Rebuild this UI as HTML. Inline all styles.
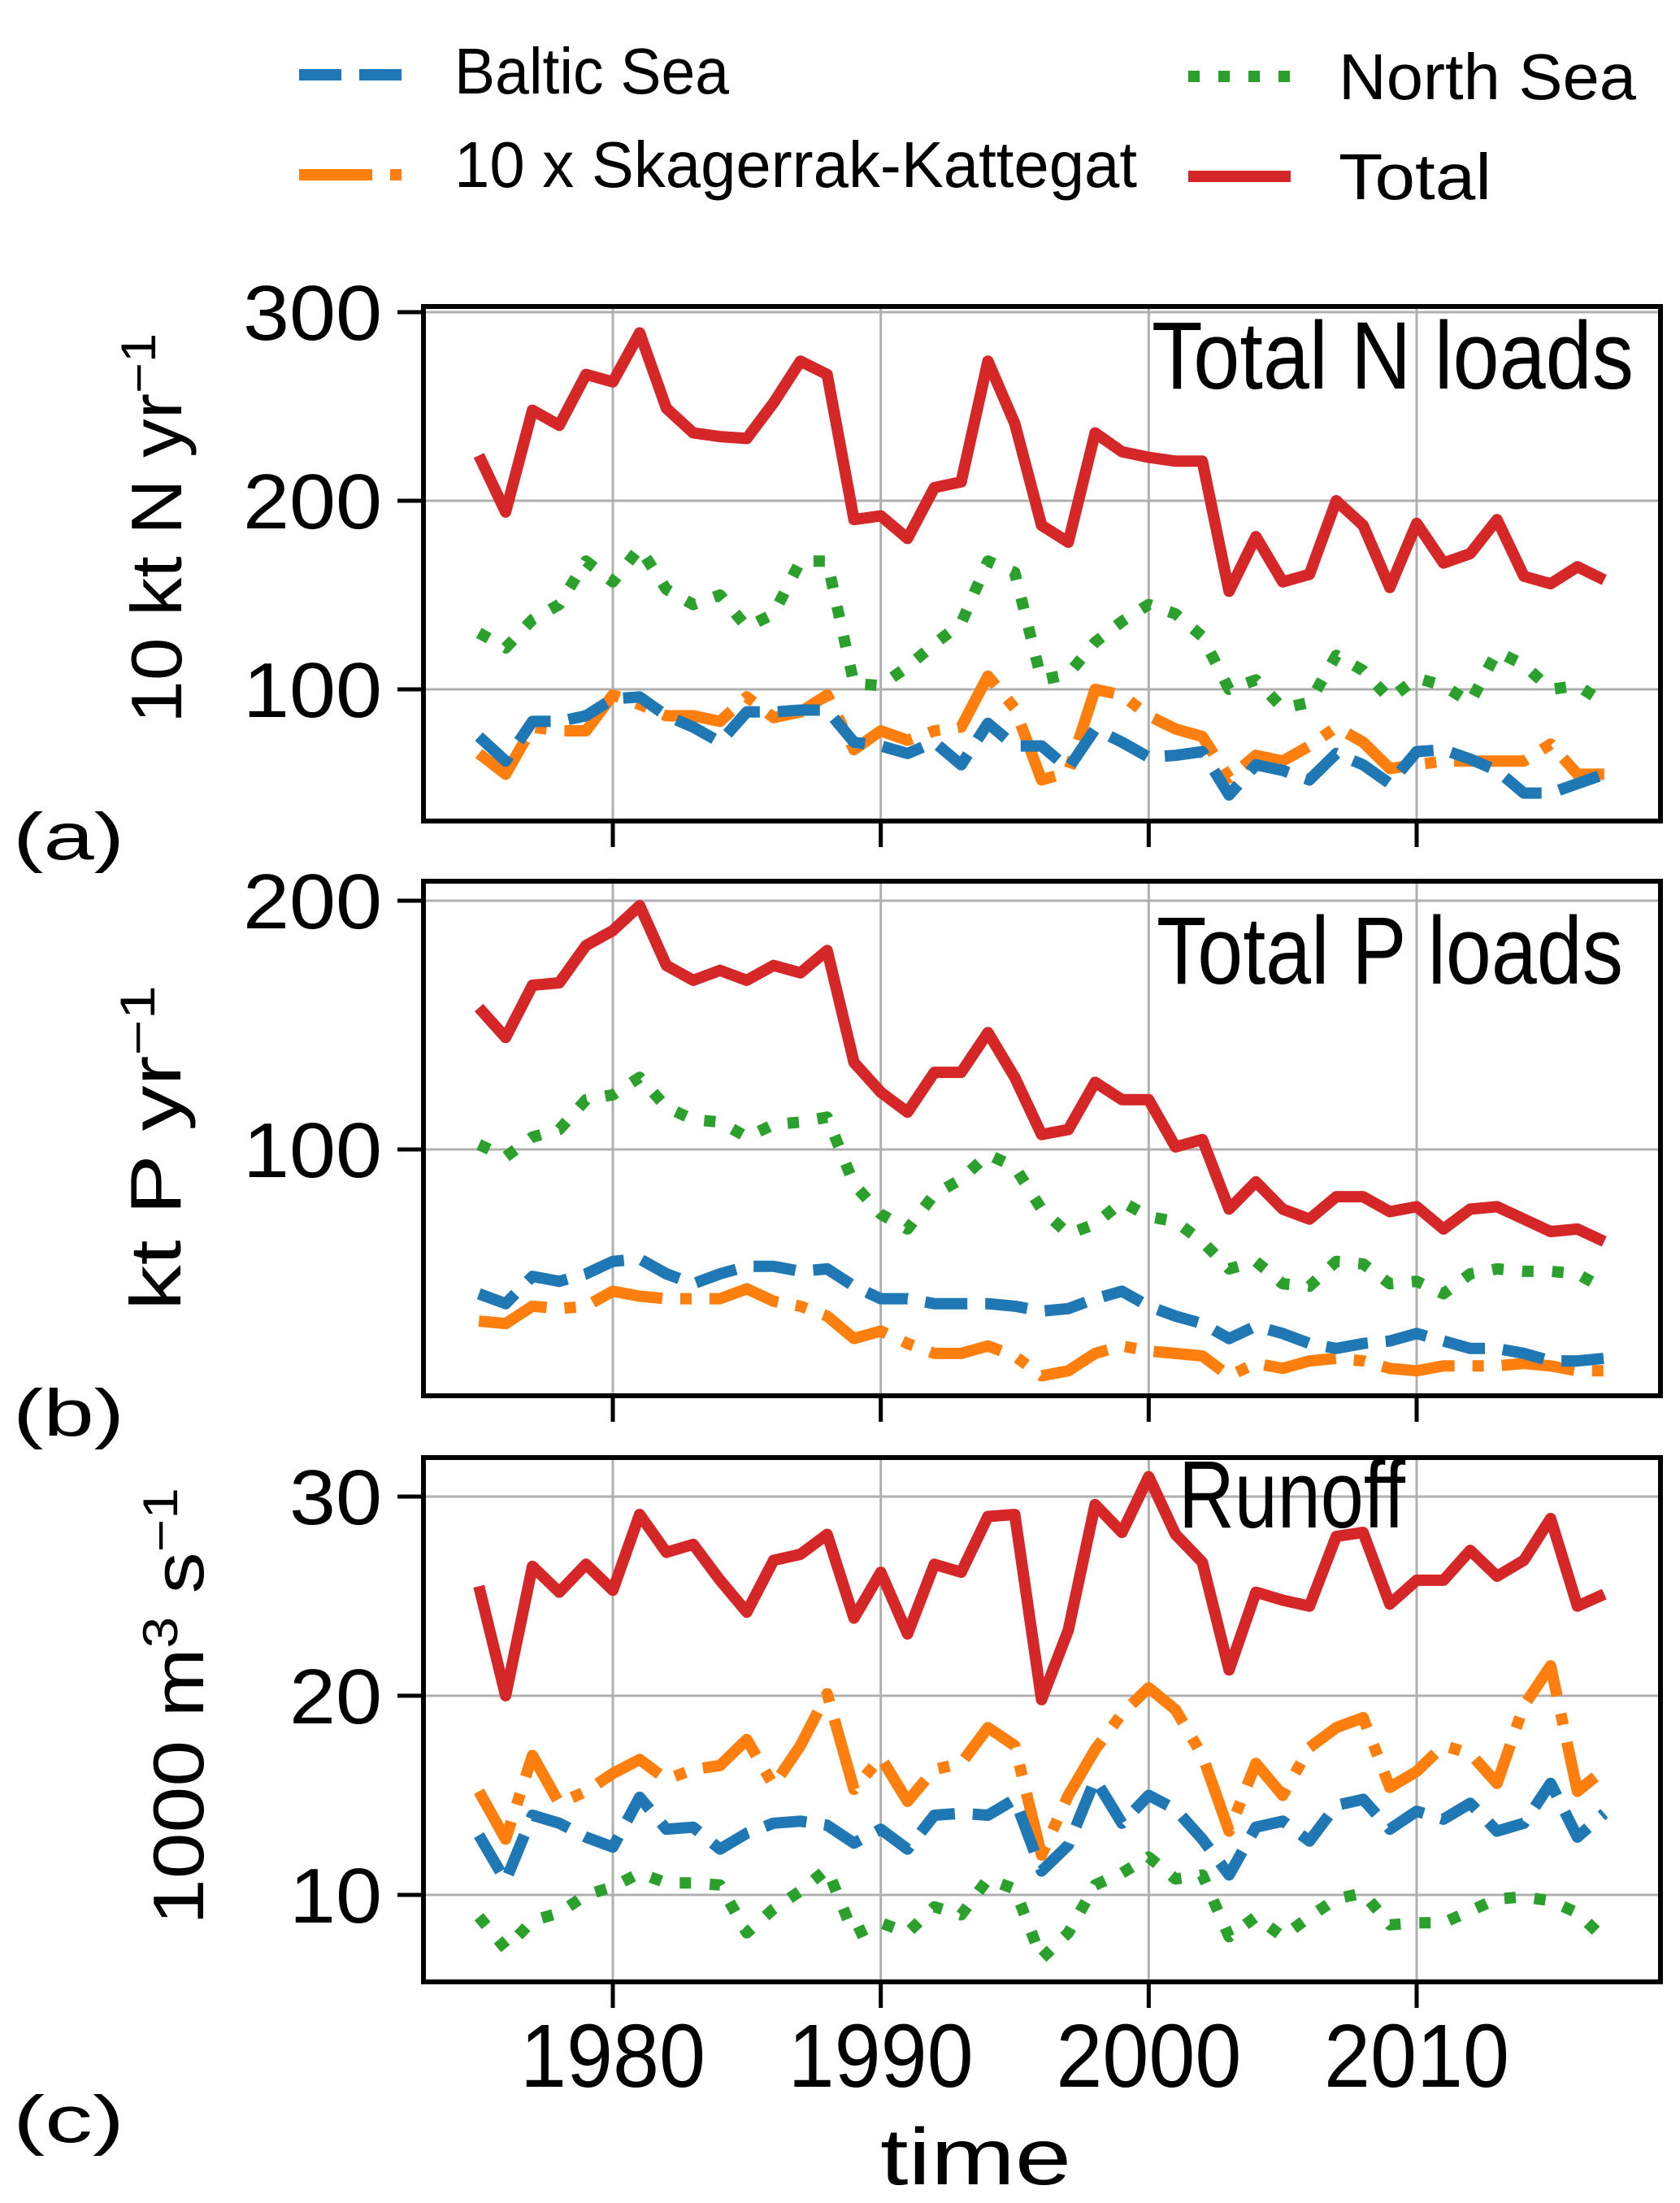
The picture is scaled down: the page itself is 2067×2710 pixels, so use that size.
<!DOCTYPE html>
<html><head><meta charset="utf-8">
<style>
html,body{margin:0;padding:0;background:#fff;}
svg{display:block;}
text{font-family:"Liberation Sans","DejaVu Sans",sans-serif;fill:#000;}
</style></head>
<body>
<svg id="chart" width="2067" height="2710" viewBox="0 0 2067 2710" xmlns="http://www.w3.org/2000/svg">
  <g id="legend">
    <g>
      <line x1="368" y1="92" x2="494" y2="92" stroke="#1f77b4" stroke-width="14" stroke-dasharray="52,22"/>
      <text x="559" y="115" font-size="80" textLength="338" lengthAdjust="spacingAndGlyphs">Baltic Sea</text>
    </g>
    <g>
      <line x1="368" y1="215" x2="494" y2="215" stroke="#ff7f0e" stroke-width="14" stroke-dasharray="90,22,14,22"/>
      <text x="559" y="230" font-size="80" textLength="840" lengthAdjust="spacingAndGlyphs">10 x Skagerrak-Kattegat</text>
    </g>
    <g>
      <line x1="1462" y1="94" x2="1588" y2="94" stroke="#2ca02c" stroke-width="14" stroke-dasharray="14,23"/>
      <text x="1647" y="122" font-size="80" textLength="366" lengthAdjust="spacingAndGlyphs">North Sea</text>
    </g>
    <g>
      <line x1="1462" y1="217" x2="1588" y2="217" stroke="#d62728" stroke-width="14"/>
      <text x="1647" y="245" font-size="80" textLength="188" lengthAdjust="spacingAndGlyphs">Total</text>
    </g>
  </g>
  <g id="plots"></g>
</svg>
<script>
const years = [];
for (let y = 1975; y <= 2017; y++) years.push(y);

const nTotal = [224,194,248,240,267,263,289,249,236,234,233,252,274,267,190,192,180,207,210,274,241,187,178,236,226,223,221,221,152,181,157,161,200,187,154,188,167,172,190,160,156,165,158];
const nNorth = [130,122,137,145,168,157,175,153,145,150,133,140,168,168,103,102,112,124,135,168,162,105,108,125,136,145,140,128,100,105,90,93,118,110,95,106,102,93,120,113,100,102,93];
const nBaltic = [75,62,83,83,86,95,96,86,80,72,88,88,89,89,72,70,66,72,60,82,70,70,58,79,72,64,65,67,44,60,57,52,66,60,50,67,68,63,57,45,45,50,55];
const nSkag = [66,55,80,78,78,97,92,86,86,83,96,85,88,97,68,78,73,78,80,107,90,52,56,100,97,86,79,75,53,65,62,70,80,72,58,60,62,62,62,62,71,55,55];

const pTotal = [157,145,166,167,182,188,198,174,168,172,168,174,171,180,135,123,115,131,131,147,129,106,108,127,120,120,101,104,76,87,76,72,81,81,75,77,68,76,77,72,67,68,63];
const pNorth = [102,97,105,108,120,122,129,117,112,111,105,110,111,113,86,74,68,82,88,98,93,76,66,70,79,73,71,63,52,55,46,45,55,54,46,47,42,50,52,51,51,50,44];
const pBaltic = [42,38,49,47,50,55,56,50,46,50,53,53,51,52,45,40,40,38,38,38,37,35,36,40,43,37,33,30,24,29,26,22,20,22,23,26,23,20,20,18,15,15,16];
const pSkag = [31,30,37,36,37,43,41,40,40,40,44,39,37,33,24,27,22,18,18,21,17,9,11,18,21,19,18,17,9,14,12,15,16,15,12,11,13,13,13,14,13,11,11];

const rTotal = [25.5,20,26.5,25.2,26.6,25.3,29.1,27.2,27.6,25.8,24.2,26.8,27.1,28.1,23.9,26.2,23.1,26.6,26.2,29,29.1,19.8,23.3,29.6,28.2,31,28.1,26.7,21.3,25.2,24.8,24.5,28,28.2,24.6,25.8,25.8,27.3,26,26.8,28.9,24.5,25.1];
const rSkag = [15.2,12.8,17,14.6,15.2,16.1,16.8,15.8,16.3,16.5,17.8,15.5,17.5,20.1,15.3,16.9,14.7,16.3,16.6,18.4,17.5,12,15,17.3,19.1,20.4,19.3,17,13.2,16.6,15,17.4,18.4,18.9,15.4,16.2,17.5,17.1,15.6,19.5,21.5,15.2,16.3];
const rBaltic = [13,10.7,14,13.6,12.9,12.4,14.9,13.3,13.4,12.3,13.1,13.6,13.7,13.5,12.6,13.3,12.3,14,14.1,14,14.8,11.2,12.5,15.8,13.6,15,14.3,12.8,11,13.4,13.7,12.7,14.5,14.8,13.3,14.2,13.8,14.6,13.2,13.6,15.6,12.9,14.1];
const rNorth = [8.9,7.3,8.7,9.1,10,10.4,11.1,10.6,10.6,10.5,8.1,9.3,10.2,11.3,8.0,8.6,8.1,9.4,9.0,10.8,10.3,6.8,8.1,10.5,11.1,11.9,10.8,11.0,7.9,8.9,7.9,8.9,9.8,10.1,8.5,8.6,8.6,9.2,9.8,9.9,9.7,9.1,7.8];

const xTicks = [1980,1990,2000,2010];
const aTicks = [100,200,300];
const bTicks = [100,200];
const cTicks = [10,20,30];

const NS = "http://www.w3.org/2000/svg";
const L = 521, R = 2043;
function xs(v){ return 754 + (v - 1980) * (1743 - 754) / 30; }
function mk(tag, attrs, parent){
  const e = document.createElementNS(NS, tag);
  for (const k in attrs) e.setAttribute(k, attrs[k]);
  parent.appendChild(e);
  return e;
}
const root = document.getElementById('plots');

const styles = {
  baltic:{c:"#1f77b4", d:"52,22"},
  skag:{c:"#ff7f0e", d:"90,22,14,22"},
  north:{c:"#2ca02c", d:"14,23"},
  total:{c:"#d62728", d:""}
};

function panel(cfg){
  const g = mk('g', {}, root);
  
  
  const ys = v => cfg.y1 + (v - cfg.v1) * (cfg.y2 - cfg.y1) / (cfg.v2 - cfg.v1);
  const clipId = 'clip-' + cfg.name;
  const cp = mk('clipPath', {id: clipId}, g);
  mk('rect', {x: L, y: cfg.top, width: R - L, height: cfg.bottom - cfg.top}, cp);
  xTicks.forEach(t => {
    const l = mk('line', {x1: xs(t), x2: xs(t), y1: cfg.top, y2: cfg.bottom, stroke: '#b0b0b0', 'stroke-width': 3}, g);
    
    
  });
  cfg.ticks.forEach(t => {
    const l = mk('line', {x1: L, x2: R, y1: ys(t), y2: ys(t), stroke: '#b0b0b0', 'stroke-width': 3}, g);
    
    
  });
  const sg = mk('g', {'clip-path': 'url(#' + clipId + ')'}, g);
  cfg.series.forEach(s => {
    const st = styles[s.k];
    const pts = s.v.map((v, i) => xs(years[i]).toFixed(1) + ',' + ys(v).toFixed(1)).join(' ');
    const p = mk('polyline', {points: pts, fill: 'none', stroke: st.c, 'stroke-width': 14, 'stroke-linejoin': 'round', 'stroke-linecap': 'butt'}, sg);
    if (st.d) p.setAttribute('stroke-dasharray', st.d);
    
    
  });
  const fr = mk('rect', {x: L, y: cfg.top, width: R - L, height: cfg.bottom - cfg.top, fill: 'none', stroke: '#000', 'stroke-width': 6}, g);
  
  
  cfg.ticks.forEach(t => {
    mk('line', {x1: L - 32, x2: L, y1: ys(t), y2: ys(t), stroke: '#000', 'stroke-width': 5}, g);
    const tx = mk('text', {x: 470, y: ys(t) + 34, 'font-size': 96, 'text-anchor': 'end', textLength: 57 * String(t).length, lengthAdjust: 'spacingAndGlyphs'}, g);
    tx.textContent = t;
    
    
  });
  xTicks.forEach(t => {
    mk('line', {x1: xs(t), x2: xs(t), y1: cfg.bottom, y2: cfg.bottom + 32, stroke: '#000', 'stroke-width': 5}, g);
    if (cfg.xlabels) {
      const tx = mk('text', {x: xs(t), y: 2567, 'font-size': 110, 'text-anchor': 'middle', textLength: 228, lengthAdjust: 'spacingAndGlyphs'}, g);
      tx.textContent = t;
      
      
    }
  });
  const tt = mk('text', {x: cfg.tx, y: cfg.ty, 'font-size': 118, textLength: cfg.tw, lengthAdjust: 'spacingAndGlyphs'}, g);
  tt.textContent = cfg.title;
  
  
  const yl = mk('text', {transform: 'translate(' + cfg.ylx + ',' + cfg.ylb + ') rotate(-90)', x: 0, y: 0, 'font-size': 88, textLength: cfg.yll, lengthAdjust: 'spacingAndGlyphs'}, g);
  yl.innerHTML = cfg.ylabel;
  
  
  const pl = mk('text', {x: 16, y: cfg.lety, 'font-size': 82, textLength: 137, lengthAdjust: 'spacingAndGlyphs'}, g);
  pl.textContent = cfg.letter;
  
  
}

panel({name:'panel-n-loads', top:377, bottom:1010, v1:300, y1:384, v2:100, y2:848, ticks:aTicks,
  series:[{k:'north',v:nNorth},{k:'skag',v:nSkag},{k:'baltic',v:nBaltic},{k:'total',v:nTotal}],
  title:'Total N loads', tx:1417, ty:478, tw:593,
  ylabel:'10 kt N yr<tspan dy="-32" font-size="60">−1</tspan>', ylx:223, ylb:890, yll:480,
  letter:'(a)', lety:1057, xlabels:false});
panel({name:'panel-p-loads', top:1084, bottom:1717, v1:200, y1:1108, v2:100, y2:1414, ticks:bTicks,
  series:[{k:'north',v:pNorth},{k:'skag',v:pSkag},{k:'baltic',v:pBaltic},{k:'total',v:pTotal}],
  title:'Total P loads', tx:1423, ty:1210, tw:574,
  ylabel:'kt P yr<tspan dy="-32" font-size="60">−1</tspan>', ylx:222, ylb:1612, yll:400,
  letter:'(b)', lety:1766, xlabels:false});
panel({name:'panel-runoff', top:1793, bottom:2438, v1:30, y1:1841, v2:10, y2:2331, ticks:cTicks,
  series:[{k:'north',v:rNorth},{k:'skag',v:rSkag},{k:'baltic',v:rBaltic},{k:'total',v:rTotal}],
  title:'Runoff', tx:1450, ty:1879, tw:279,
  ylabel:'1000 m<tspan dy="-32" font-size="60">3</tspan><tspan dy="32"> s</tspan><tspan dy="-32" font-size="60">−1</tspan>', ylx:250, ylb:2368, yll:538,
  letter:'(c)', lety:2635, xlabels:true});

const xt = mk('text', {x: 1083, y: 2687, 'font-size': 98, textLength: 235, lengthAdjust: 'spacingAndGlyphs'}, document.getElementById('chart'));
xt.textContent = 'time';


</script>
</body></html>
